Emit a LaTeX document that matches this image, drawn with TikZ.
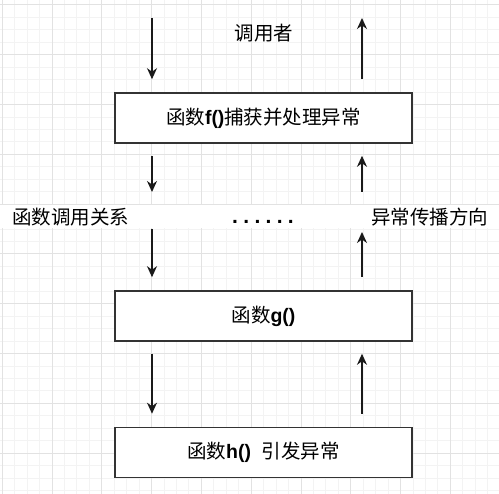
\documentclass[tikz,border=0pt]{standalone}
\usepackage{fontspec}
\setmainfont{Noto Sans CJK SC}
\newfontfamily\lat{Liberation Sans}
\usetikzlibrary{arrows.meta}
\definecolor{gridmin}{HTML}{F3F3F3}
\definecolor{gridmaj}{HTML}{E2E2E2}
\definecolor{edgecol}{HTML}{333333}
\definecolor{arrcol}{HTML}{1A1A1A}
\begin{document}
\begin{tikzpicture}[x=1pt,y=-1pt,
  fnbox/.style={draw=edgecol,line width=1.6pt,fill=white,minimum width=297pt,minimum height=50pt,inner sep=0pt,font=\fontsize{19.5}{22}\selectfont},
  lbl/.style={inner sep=0pt,font=\fontsize{19.5}{22}\selectfont},
  arr/.style={draw=arrcol,line width=1.3pt,-{Stealth[length=11pt,width=10pt,inset=3.5pt]}},
]
\useasboundingbox (0,0) rectangle (499,494);
\fill[white] (0,0) rectangle (499,494);
% grid
\foreach \k in {0,...,39} {
  \draw[gridmin,line width=1pt] ({2.2+12.45*\k},0) -- ({2.2+12.45*\k},494);
  \draw[gridmin,line width=1pt] (0,{5+12.45*\k}) -- (499,{5+12.45*\k});
}
\foreach \k in {0,...,9} {
  \draw[gridmaj,line width=1pt] ({2.2+49.8*\k},0) -- ({2.2+49.8*\k},494);
  \draw[gridmaj,line width=1pt] (0,{5+49.8*\k}) -- (499,{5+49.8*\k});
}
% white band behind middle labels
\fill[white] (0,205) rectangle (499,228);
% boxes
\node[fnbox] (f) at (263.5,118) {函数{\lat\bfseries f()}捕获并处理异常};
\node[fnbox] (g) at (263.5,316) {函数{\lat\bfseries g()}};
\node[fnbox] (h) at (263.5,452.5) {函数{\lat\bfseries h()\ \ }引发异常};
% labels
\node[lbl] (caller) at (264,33) {调用者};
\node[lbl,anchor=west] (rel) at (12,217) {函数调用关系};
\node[lbl,anchor=west] (dir) at (371,217) {异常传播方向};
\node[lbl,font=\fontsize{21}{22}\selectfont] (dots) at (263,221.7) {\lat\bfseries .\kern5.3pt.\kern5.3pt.\kern5.3pt.\kern5.3pt.\kern5.3pt.};
% free ends
\coordinate (dtop) at (152,18);
\coordinate (utop) at (362,18);
\coordinate (dmid1) at (152,192);
\coordinate (dmid2) at (152,229);
\coordinate (umid1) at (362,192);
\coordinate (umid2) at (362,232);
\coordinate (dx) at (152,0);
\coordinate (ux) at (362,0);
% call direction (down)
\draw[arr,shorten >=13pt] (dtop) -- (dx |- f.north);
\draw[arr,shorten <=12pt] (dx |- f.south) -- (dmid1);
\draw[arr,shorten >=13pt] (dmid2) -- (dx |- g.north);
\draw[arr,shorten <=12pt,shorten >=13pt] (dx |- g.south) -- (dx |- h.north);
% exception propagation (up)
\draw[arr,shorten <=13pt] (ux |- f.north) -- (utop);
\draw[arr,shorten >=12pt] (umid1) -- (ux |- f.south);
\draw[arr,shorten <=13pt] (ux |- g.north) -- (umid2);
\draw[arr,shorten <=13pt,shorten >=12pt] (ux |- h.north) -- (ux |- g.south);
\end{tikzpicture}
\end{document}
